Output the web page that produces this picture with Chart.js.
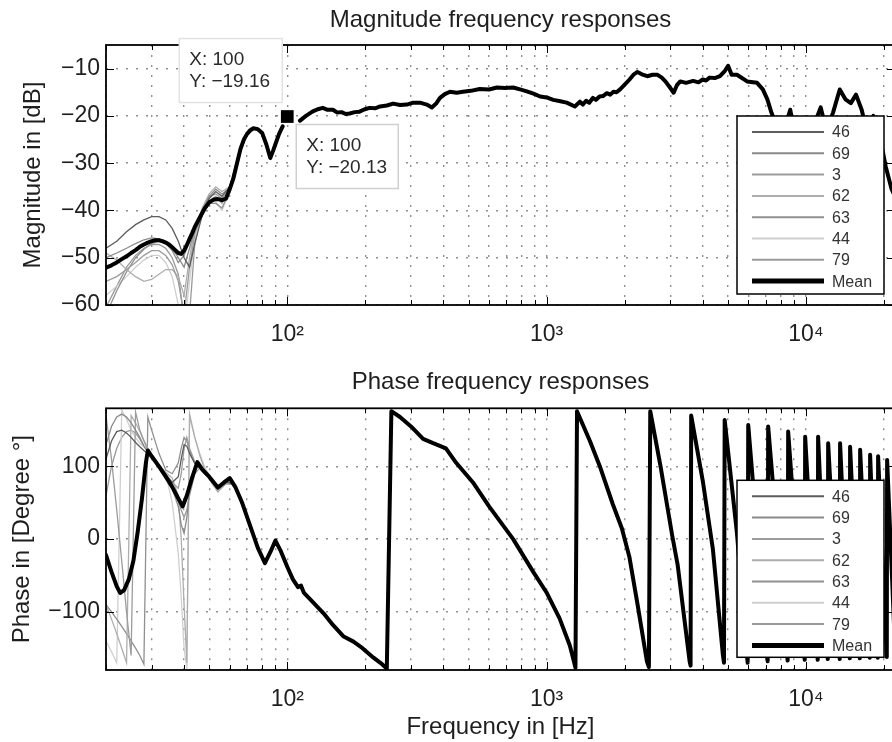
<!DOCTYPE html>
<html>
<head>
<meta charset="utf-8">
<script src="https://cdn.jsdelivr.net/npm/chart.js@4.4.0/dist/chart.umd.min.js"></script>
<style>
html,body{margin:0;padding:0;background:#fff;overflow:hidden;width:892px;height:742px;}
#wrapA{position:absolute;left:0;top:0;width:912px;height:350px;}
#wrapB{position:absolute;left:0;top:350px;width:912px;height:392px;}
canvas{display:block;}
</style>
</head>
<body>
<div id="wrapA"><canvas id="magChart" width="912" height="350"></canvas></div>
<div id="wrapB"><canvas id="phaseChart" width="912" height="392"></canvas></div>
<script>
// ---------------- DATA ----------------
const seriesNames = ['46', '69', '3', '62', '63', '44', '79'];
const seriesColors = ['#5c5c5c', '#8a8a8a', '#9c9c9c', '#adadad', '#909090', '#cfcfcf', '#9a9a9a'];

const xTickValues = [20,30,40,50,60,70,80,90,100,200,300,400,500,600,700,800,900,1000,2000,3000,4000,5000,6000,7000,8000,9000,10000,20000];
const xTickLabels = {100: '10\u00B2', 1000: '10\u00B3', 10000: '10\u2074'};
const magTicks = [-60, -50, -40, -30, -20, -10];
const phaseTicks = [-100, 0, 100];

// Mean magnitude (dB)
const magFreq = [20,21,22,23,24,25,26,27,28,29,30,31,32,33,34,35,36,37,38,39,40,41,42,43,44,46,48,50,52,54,56,58,60,62,64,66,68,70,72,74,77,80,83,86,88,90,93,96,100,
  112,118,125,131,137,143,150,156,162,168,174,182,190,199,208,218,228,242,256,272,289,306,325,345,361,375,388,405,424,450,476,510,552,600,643,690,743,790,839,890,944,1000,1061,1130,1195,1285,1344,1380,1420,1460,1508,1550,1600,1650,1707,1760,1810,1860,1920,2000,2088,2170,2241,2330,2445,2560,2679,2780,2871,2990,3090,3180,3278,3450,3674,3850,4000,4120,4250,4450,4660,4850,5010,5170,5420,5930,6480,6820,7100,7370,7700,8100,8500,8700,8900,9500,10200,10900,11400,11800,12200,12720,13500,14200,14900,15600,16400,16700,17400,18200,19000,19700,20300,21400,22050];
const magMean = [-52.1,-51.6,-51,-50.3,-49.7,-49,-48.4,-47.7,-47.2,-46.8,-46.5,-46.3,-46.3,-46.5,-46.8,-47.2,-47.8,-48.4,-49,-49.2,-48.5,-47.3,-46,-44.8,-43.5,-41.5,-39.6,-38.3,-37.7,-37.6,-37.8,-37.5,-35.5,-33.2,-30,-27,-25,-23.8,-23,-22.6,-22.8,-23.6,-26,-28.9,-27.5,-26,-23.8,-22.2,null,
  -21,-20,-19.1,-18.6,-18.3,-18.7,-18.7,-19.3,-19.2,-19.6,-19.5,-19.2,-19.1,-18.6,-18.3,-18.4,-18,-17.8,-17.4,-17.7,-17.6,-17.2,-17.2,-17.6,-18.2,-17.4,-16.2,-15.4,-14.9,-15.1,-14.9,-14.7,-14.3,-14.4,-14,-14.1,-14,-14.4,-14.8,-15.3,-15.9,-16.1,-16.6,-16.9,-17.2,-18,-17,-17.6,-16.8,-17.2,-16.2,-16.6,-15.9,-15.8,-15.2,-15.5,-14.9,-15,-14.4,-13.4,-12.3,-11.2,-10.7,-11.2,-11.6,-11.3,-11.3,-11.9,-12.7,-14,-15.1,-13.5,-12.7,-13,-12.6,-12.9,-12.3,-12.5,-11.9,-12,-11.6,-10.6,-9.4,-11.3,-11.3,-12.7,-13,-14.4,-16.5,-19.4,-22,-23,-20.5,-18.7,-21.5,-23.5,-24,-21,-18.2,-21.5,-22,-19.3,-14.4,-16.5,-17.3,-15.5,-18.7,-20.5,-23,-20,-24,-27,-30.7,-35.5,-37];

// Individual magnitudes at low frequencies (dB)
const magLowFreq = [20,22,24,26,28,30,32,34,36,38,40,42,44,47,50,53,56,60,65,70,75,80];
const mag46 = [-48,-46.5,-44.5,-43,-42,-41.3,-41.3,-42,-43.8,-46.5,-50,-52,-47,-41,-37.5,-36,-37,-35,-28,-24,-22.6,-23.6];
const mag69 = [-50,-49,-48,-47,-46.2,-45.8,-46,-46.8,-48,-50,-52,-48,-44,-40,-37,-35.5,-36.5,-35.3,-28,-24,-22.6,-23.6];
const mag3  = [-55,-54,-52.5,-51,-49.5,-48.5,-48.5,-49.5,-51.5,-55,-62,-52,-45,-40.5,-38,-37,-38.5,-35.5,-28,-24,-22.6,-23.6];
const mag62 = [-49,-50.5,-52.5,-54,-55,-54.6,-53.5,-52.5,-52.5,-54,-58,-50,-44,-39.5,-36.5,-35,-36,-35,-28.3,-24,-22.6,-23.6];
const mag63 = [-62,-57,-53,-50,-48.2,-47,-46.5,-47,-48.5,-51,-49.5,-46.5,-44,-41,-38.5,-38.5,-39.5,-36,-28,-24,-22.6,-23.6];
const mag44 = [-58,-56,-54,-52,-50.5,-49.5,-49.5,-51,-54,-60,-65,-55,-46,-41,-38,-38.2,-40,-36,-28,-24,-22.6,-23.6];
const mag79 = [-60.5,-56,-52,-49.5,-48,-47.2,-47.2,-48,-50,-53.5,-63,-62,-47,-40,-37,-36.5,-37.5,-35.3,-28,-24,-22.6,-23.6];

// Mean phase (degree)
const phaseFreq = [20,21,22,22.7,23.5,24.5,25.5,26.5,27.5,28.5,29,30,32,34,36,38,39.5,41,43,45,47,50,54,57,60,63,67,72,77,82,86,90,94,100,105,110,113,116,125,138,150,165,180,195,215,232,242,252,272,300,334,365,409,448,520,600,743,888,998,1122,1228,1274,1292,
  1310,1469,1605,1800,1950,2087,2243,2436,2480,2510,2750,3050,3200,3560,3590,3610,4010,4378,4786,4830,4860,5420,5960,5990,7120,7150,8500,8540,9890,9930,11100,11140,12140,12180,13500,13540,14760,14800,16130,16180,17620,17680,18920,18980,20500,20560,22050];
const phaseMean = [-22,-45,-65,-74,-70,-55,-30,10,55,105,122,114,100,86,72,56,45,60,85,106,96,86,71,78,84,72,50,18,-12,-33,-18,-2,-15,-38,-55,-66,-64,-74,-86,-102,-118,-134,-141,-150,-163,-172,-178,176,168,155,138,132,125,105,78,45,0,-45,-73,-109,-146,-168,-177,
  176,135,100,48,15,-25,-90,-168,-176,176,100,5,-35,-168,-174,170,78,-14,-160,-170,164,8,-170,157,-168,155,-167,148,-166,141,-166,141,-165,132,-165,132,-164,127,-164,123,-163,116,-163,114,-162,109,-150];

// Individual phases at low frequencies (degree)
const phaseLowFreq = [20,21,22,23,24,25,26,27,28,29,30,32,34,36,38,39,40,41,42,44,46,48,50,54,58,62,66,70];
const phase46 = [110,135,148,150,146,140,133,127,122,118,112,100,88,78,86,110,130,128,118,104,98,90,84,70,79,76,53,30];
const phase69 = [130,155,168,172,168,160,150,140,128,120,113,100,85,70,45,20,8,30,70,100,100,91,85,70,79,76,53,30];
const phase3  = [170,110,40,-30,-100,-160,175,150,135,122,114,102,90,78,70,90,125,140,125,106,98,90,85,68,76,76,53,30];
const phase62 = [-90,-110,-130,-150,-170,170,160,148,136,125,115,102,92,84,60,0,-90,-170,172,140,115,96,82,65,76,75,53,30];
const phase63 = [-90,-100,-110,-120,-130,-140,-150,-160,-172,168,150,118,95,90,105,125,140,135,122,105,97,90,84,68,77,76,53,30];
const phase44 = [-140,-155,-170,178,165,150,140,132,127,123,115,103,90,50,-20,-80,-150,-178,168,140,118,100,88,70,78,76,53,30];
const phase79 = [60,100,125,140,148,150,146,138,128,120,112,100,84,70,52,40,30,40,60,90,98,90,85,70,79,76,53,30];

// Data tips
const tipX = 100;
const tipYs = [-19.16, -20.13];

// ---------------- HELPERS ----------------
const FONT = "'Liberation Sans', Arial, Helvetica, sans-serif";
const TXT = '#1e1e1e';
const fmtNum = v => String(v).replace('-', '\u2212');
const pts = (xs, ys) => xs.map((x, i) => ({x: x, y: ys[i]}));

const magInd = [mag46, mag69, mag3, mag62, mag63, mag44, mag79];
const phaseInd = [phase46, phase69, phase3, phase62, phase63, phase44, phase79];

function drawLegend(ctx, a, o) {
  const bx = a.right - 158, by = a.top + o.legendTop, bw = 147, bh = o.legendHeight;
  ctx.save();
  ctx.fillStyle = '#fff';
  ctx.fillRect(bx, by, bw, bh);
  ctx.strokeStyle = '#000';
  ctx.lineWidth = 1.5;
  ctx.strokeRect(bx, by, bw, bh);
  ctx.font = '16px ' + FONT;
  ctx.textBaseline = 'middle';
  ctx.textAlign = 'left';
  const labels = seriesNames.concat(['Mean']);
  labels.forEach((lab, i) => {
    const y = by + 16 + i * 21.3;
    ctx.strokeStyle = i < seriesNames.length ? seriesColors[i] : '#000';
    ctx.lineWidth = i < seriesNames.length ? 2 : 5;
    ctx.beginPath();
    ctx.moveTo(bx + 15, y);
    ctx.lineTo(bx + 87, y);
    ctx.stroke();
    ctx.fillStyle = '#333';
    ctx.fillText(lab, bx + 95, y + 1);
  });
  ctx.restore();
}

function drawFrame(chart) {
  const ctx = chart.ctx, a = chart.chartArea, xs = chart.scales.x, ys = chart.scales.y;
  ctx.save();
  ctx.strokeStyle = '#000';
  ctx.lineWidth = 1;
  ctx.beginPath();
  xs.ticks.forEach(t => {
    const px = Math.round(xs.getPixelForValue(t.value)) + 0.5;
    const len = xTickLabels[t.value] ? 8 : 5;
    ctx.moveTo(px, a.bottom); ctx.lineTo(px, a.bottom - len);
    ctx.moveTo(px, a.top); ctx.lineTo(px, a.top + len);
  });
  ys.ticks.forEach(t => {
    const py = Math.round(ys.getPixelForValue(t.value)) + 0.5;
    ctx.moveTo(a.left, py); ctx.lineTo(a.left + 8, py);
    ctx.moveTo(a.right, py); ctx.lineTo(a.right - 8, py);
  });
  ctx.stroke();
  ctx.lineWidth = 1.8;
  ctx.strokeRect(a.left, a.top, a.right - a.left, a.bottom - a.top);
  ctx.restore();
}

function drawTips(chart) {
  const ctx = chart.ctx, xs = chart.scales.x, ys = chart.scales.y;
  const px = xs.getPixelForValue(tipX), py = ys.getPixelForValue(tipYs[1]);
  const boxes = [
    {x: px - 108, y: py - 78, w: 103, h: 64, stroke: '#e2e2e2', yv: tipYs[0]},
    {x: px + 9, y: py + 8, w: 102, h: 64, stroke: '#cfcfcf', yv: tipYs[1]}
  ];
  ctx.save();
  boxes.forEach(b => {
    ctx.fillStyle = '#fff';
    ctx.fillRect(b.x, b.y, b.w, b.h);
    ctx.strokeStyle = b.stroke;
    ctx.lineWidth = 1.5;
    ctx.strokeRect(b.x, b.y, b.w, b.h);
    ctx.fillStyle = '#2a2a2a';
    ctx.font = '19px ' + FONT;
    ctx.textAlign = 'left';
    ctx.textBaseline = 'middle';
    ctx.fillText('X: ' + tipX, b.x + 10, b.y + 21);
    ctx.fillText('Y: ' + fmtNum(b.yv.toFixed(2)), b.x + 10, b.y + 43);
  });
  ctx.restore();
}

const matlabPlugin = {
  id: 'matlab',
  afterDatasetsDraw(chart, args, o) {
    drawLegend(chart.ctx, chart.chartArea, o);
    drawFrame(chart);
    if (o.tips) drawTips(chart);
  }
};

function xScale(height, withTitle) {
  return {
    type: 'logarithmic',
    min: 20, max: 22050,
    afterBuildTicks: s => { s.ticks = xTickValues.map(v => ({value: v})); },
    afterFit: s => { s.height = height; },
    ticks: {
      autoSkip: false, maxRotation: 0, minRotation: 0, padding: 16, color: TXT,
      font: {family: FONT, size: 23, lineHeight: 1.2},
      callback: v => xTickLabels[v] || ''
    },
    grid: {color: 'rgba(70,70,70,0.6)', lineWidth: 1.4, drawTicks: false, tickLength: 0},
    border: {display: false, dash: [2, 8]},
    title: {
      display: withTitle, text: 'Frequency in [Hz]', color: TXT,
      font: {family: FONT, size: 24, lineHeight: 1.2}, padding: {top: 0, bottom: 0}
    }
  };
}

function yScale(min, max, ticks, title, titlePad) {
  return {
    type: 'linear', min: min, max: max,
    afterBuildTicks: s => { s.ticks = ticks.map(v => ({value: v})); },
    afterFit: s => { s.width = 106; },
    ticks: {
      padding: 6, color: TXT,
      font: {family: FONT, size: 23, lineHeight: 1.2},
      callback: v => fmtNum(v)
    },
    grid: {color: 'rgba(70,70,70,0.6)', lineWidth: 1.4, drawTicks: false, tickLength: 0},
    border: {display: false, dash: [2, 8]},
    title: {
      display: true, text: title, color: TXT,
      font: {family: FONT, size: 24, lineHeight: 1.2}, padding: {top: titlePad, bottom: 0}
    }
  };
}

function buildDatasets(lowFreq, indArrays, meanFreq, meanVals, withTip) {
  const ds = [];
  if (withTip) {
    ds.push({
      label: 'datatip', data: [{x: tipX, y: tipYs[1]}], showLine: false,
      pointStyle: 'rect', pointRadius: 9, pointBackgroundColor: '#000', pointBorderColor: '#000',
      pointBorderWidth: 0, order: 0
    });
  }
  ds.push({
    label: 'Mean', data: pts(meanFreq, meanVals), borderColor: '#000', borderWidth: 4,
    pointRadius: 0, tension: 0, borderJoinStyle: 'round', borderCapStyle: 'round', clip: 0, order: 1
  });
  indArrays.forEach((arr, i) => {
    ds.push({
      label: seriesNames[i], data: pts(lowFreq, arr), borderColor: seriesColors[i], borderWidth: 1.3,
      pointRadius: 0, tension: 0, clip: 0, order: 2 + i
    });
  });
  return ds;
}

Chart.defaults.font.family = FONT;

new Chart(document.getElementById('magChart'), {
  type: 'line',
  data: {datasets: buildDatasets(magLowFreq, magInd, magFreq, magMean, true)},
  options: {
    responsive: false, animation: false, events: [],
    layout: {padding: {left: 0, right: 17, top: 0, bottom: 0}},
    scales: {
      x: xScale(45, false),
      y: yScale(-60, -5, magTicks, 'Magnitude in [dB]', 18.6)
    },
    plugins: {
      legend: {display: false}, tooltip: {enabled: false},
      title: {
        display: true, text: 'Magnitude frequency responses', color: TXT, fullSize: false,
        font: {family: FONT, size: 24, weight: 'normal', lineHeight: 1.2},
        padding: {top: 5.6, bottom: 10.6}
      },
      matlab: {legendTop: 71, legendHeight: 178, tips: true}
    }
  },
  plugins: [matlabPlugin]
});

new Chart(document.getElementById('phaseChart'), {
  type: 'line',
  data: {datasets: buildDatasets(phaseLowFreq, phaseInd, phaseFreq, phaseMean, false)},
  options: {
    responsive: false, animation: false, events: [],
    layout: {padding: {left: 0, right: 17, top: 0, bottom: 0}},
    scales: {
      x: xScale(72, true),
      y: yScale(-180, 180, phaseTicks, 'Phase in [Degree \u00B0]', 7.6)
    },
    plugins: {
      legend: {display: false}, tooltip: {enabled: false},
      title: {
        display: true, text: 'Phase frequency responses', color: TXT, fullSize: false,
        font: {family: FONT, size: 24, weight: 'normal', lineHeight: 1.2},
        padding: {top: 17.6, bottom: 11.9}
      },
      matlab: {legendTop: 72, legendHeight: 177, tips: false}
    }
  },
  plugins: [matlabPlugin]
});
</script>
</body>
</html>
